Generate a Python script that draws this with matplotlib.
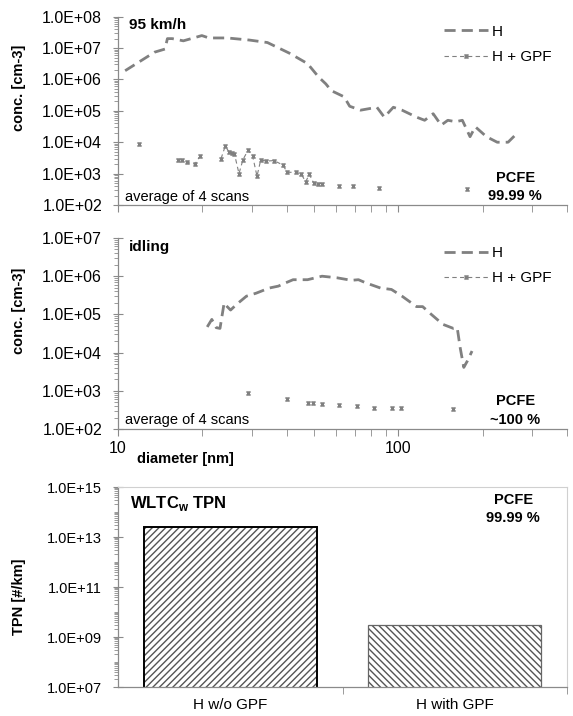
import numpy as np
import matplotlib
matplotlib.use("Agg")
import matplotlib.pyplot as plt
from matplotlib.ticker import LogLocator, FixedLocator, FuncFormatter, NullFormatter
from matplotlib.path import Path
from matplotlib.lines import Line2D

plt.rcParams["font.family"] = ["Liberation Sans", "DejaVu Sans"]

# 95 km/h, without GPF
d_h95 = [10.6, 13.5, 14.7, 15.0, 15.6, 17.1, 19.9, 21.1, 24.5, 29.4, 34.1, 40.8,
         47.4, 51.9, 55.1, 57.6, 64.0, 67.0, 73.3, 83.8, 89.0, 95.9, 103, 116,
         124, 133, 142, 150, 160, 169, 180, 188, 206, 225, 246, 266]
c_h95 = [1.9e6, 7.4e6, 9.3e6, 2.0e7, 2.0e7, 1.7e7, 2.5e7, 2.1e7, 2.1e7, 1.8e7,
         1.5e7, 6.9e6, 3.2e6, 1.2e6, 7.2e5, 4.4e5, 2.8e5, 1.4e5, 1.05e5, 1.3e5,
         6.3e4, 1.3e5, 1.05e5, 6.3e4, 5.0e4, 8.1e4, 3.5e4, 5.0e4, 4.5e4, 5.0e4,
         1.5e4, 3.1e4, 1.5e4, 1.0e4, 1.0e4, 2.0e4]

# 95 km/h, with GPF (nan = gap in the series)
nan = np.nan
d_g95 = [11.9, nan, 16.4, 16.9, 17.6, 18.8, 19.6, nan, 23.3, 24.1, 24.9, 25.4,
         26.0, 27.0, 27.9, 29.1, 30.2, 31.3, 32.3, 33.6, 36.0, 38.6, 40.2, 43.0,
         44.9, 46.7, 48.1, 49.9, 51.5, 53.4, nan, 61.5, nan, 68.9, nan, 85.5,
         nan, 175]
c_g95 = [8.7e3, nan, 2.8e3, 2.7e3, 2.3e3, 2.0e3, 3.6e3, nan, 3.0e3, 7.4e3,
         4.9e3, 4.5e3, 4.3e3, 1.0e3, 2.8e3, 5.6e3, 3.6e3, 8.3e2, 2.8e3, 2.5e3,
         2.6e3, 1.9e3, 1.1e3, 1.1e3, 1.0e3, 5.5e2, 9.5e2, 4.9e2, 4.8e2, 4.8e2,
         nan, 4.1e2, nan, 3.9e2, nan, 3.4e2, nan, 3.2e2]

# idling, without GPF
d_hid = [20.8, 21.6, 22.4, 23.1, 23.9, 24.5, 25.2, 26.4, 28.7, 31.1, 34.6, 37.3,
         39.6, 42.1, 47.4, 53.4, 60.3, 68.0, 72.0, 76.5, 86.3, 94.4, 103, 116,
         122, 131, 144, 157, 162, 166, 171, 176, 183]
c_hid = [4.7e4, 7.4e4, 4.5e4, 4.3e4, 2.0e5, 1.6e5, 1.3e5, 1.8e5, 3.0e5, 3.6e5,
         4.9e5, 5.5e5, 6.7e5, 8.1e5, 8.1e5, 1.0e6, 9.1e5, 7.8e5, 8.1e5, 6.7e5,
         4.9e5, 4.5e5, 3.0e5, 1.6e5, 1.6e5, 1.0e5, 5.5e4, 4.3e4, 4.5e4, 1.35e4,
         4.1e3, 6.0e3, 1.1e4]

# idling, with GPF
d_gid = [29.0, nan, 40.2, nan, 47.7, nan, 49.5, nan, 53.4, nan, 61.5, nan, 71.1,
         nan, 81.8, nan, 95.1, nan, 102.5, nan, 157]
c_gid = [9.0e2, nan, 6.0e2, nan, 4.9e2, nan, 4.7e2, nan, 4.6e2, nan, 4.3e2, nan,
         3.9e2, nan, 3.5e2, nan, 3.5e2, nan, 3.5e2, nan, 3.3e2]

# WLTC total particle number
tpn_labels = ["H w/o GPF", "H with GPF"]
tpn_values = [2.6e13, 3.0e9]

GRAY = "#808080"
AXC = "#8a8a8a"

# excel-like "star" marker: x with a vertical bar
star = Path([(-1, -1), (1, 1), (-1, 1), (1, -1), (0, -1.1), (0, 1.1)],
            [Path.MOVETO, Path.LINETO, Path.MOVETO, Path.LINETO,
             Path.MOVETO, Path.LINETO])

sci = FuncFormatter(lambda v, p: f"{v:.1E}")


def style_axes(ax, fs):
    for s in ("top", "right"):
        ax.spines[s].set_visible(False)
    for s in ("left", "bottom"):
        ax.spines[s].set_color(AXC)
        ax.spines[s].set_linewidth(0.9)
    ax.tick_params(axis="y", which="major", direction="inout", length=7,
                   color=AXC, labelsize=fs, pad=8)
    ax.tick_params(axis="y", which="minor", direction="out", length=3,
                   color=AXC, width=0.6)
    ax.tick_params(axis="x", which="both", direction="out", length=5,
                   color=AXC, labelsize=fs)
    ax.yaxis.set_major_formatter(sci)


def psd_panel(ax, d_h, c_h, d_g, c_g, ylim, mode, pcfe):
    ax.set_xscale("log")
    ax.set_yscale("log")
    ax.plot(d_h, c_h, color=GRAY, lw=2.0, ls=(0, (4, 2.2)))
    ax.plot(d_g, c_g, color=GRAY, lw=0.8, ls=(0, (4, 3)), marker=star,
            ms=3.2, mew=1.1, mec=GRAY)
    ax.set_xlim(10, 400)
    ax.set_ylim(*ylim)
    ax.yaxis.set_major_locator(LogLocator(base=10, numticks=20))
    ax.yaxis.set_minor_locator(LogLocator(base=10, subs=np.arange(2, 10), numticks=100))
    ax.yaxis.set_minor_formatter(NullFormatter())
    ax.xaxis.set_minor_locator(LogLocator(base=10, subs=np.arange(2, 10), numticks=100))
    ax.xaxis.set_minor_formatter(NullFormatter())
    style_axes(ax, 11.5)
    ax.set_ylabel("conc. [cm-3]", fontsize=10.5, fontweight="bold")
    ax.yaxis.set_label_coords(-0.205, 0.62)

    handles = [Line2D([], [], color=GRAY, lw=2.0, ls=(0, (4, 2.2))),
               Line2D([], [], color=GRAY, lw=0.8, ls=(0, (4, 3)), marker=star,
                      ms=3.2, mew=1.1)]
    ax.legend(handles, ["H", "H + GPF"], loc="upper right",
              bbox_to_anchor=(0.995, 1.03), frameon=False, fontsize=11,
              handlelength=2.9, handletextpad=0.25, labelspacing=0.75)

    ax.text(0.025, 0.955, mode, transform=ax.transAxes, fontsize=11,
            fontweight="bold", va="center", ha="left")
    ax.text(0.016, 0.045, "average of 4 scans", transform=ax.transAxes,
            fontsize=10.5, va="center", ha="left")
    ax.text(0.884, 0.145, "PCFE", transform=ax.transAxes, fontsize=10.5,
            fontweight="bold", va="center", ha="center")
    ax.text(0.884, 0.048, pcfe, transform=ax.transAxes, fontsize=10.5,
            fontweight="bold", va="center", ha="center")


fig = plt.figure(figsize=(5.73, 7.16), dpi=100)

ax1 = fig.add_axes([0.206, 0.7137, 0.784, 0.263])
psd_panel(ax1, d_h95, c_h95, d_g95, c_g95, (1e2, 1e8), "95 km/h", "99.99 %")
ax1.tick_params(axis="x", which="both", labelbottom=False)

ax2 = fig.add_axes([0.206, 0.4008, 0.784, 0.2668])
psd_panel(ax2, d_hid, c_hid, d_gid, c_gid, (1e2, 1e7), "idling", "~100 %")
ax2.xaxis.set_major_formatter(FuncFormatter(lambda v, p: f"{v:g}"))
ax2.set_xlabel("diameter [nm]", fontsize=10.5, fontweight="bold")
ax2.xaxis.set_label_coords(0.15, -0.12)

# bottom: total particle number
ax3 = fig.add_axes([0.206, 0.0405, 0.784, 0.2793])
ax3.set_yscale("log")
x = np.arange(len(tpn_labels))
ax3.bar(x, tpn_values, width=0.77, color="white", edgecolor="#555555",
        linewidth=0, hatch=["/////", "\\\\\\\\\\"])
ax3.bar(x, tpn_values, width=0.77, fill=False,
        edgecolor=["black", "#666666"], linewidth=[1.4, 0.9])
ax3.set_xlim(-0.5, 1.5)
ax3.set_ylim(1e7, 1e15)
ax3.yaxis.set_major_locator(FixedLocator([1e7, 1e9, 1e11, 1e13, 1e15]))
ax3.yaxis.set_minor_locator(LogLocator(base=10, subs=np.arange(1, 10), numticks=100))
ax3.yaxis.set_minor_formatter(NullFormatter())
style_axes(ax3, 10.5)
ax3.set_xticks(x)
ax3.set_xticklabels(tpn_labels, fontsize=11)
ax3.tick_params(axis="x", which="major", length=0, pad=8)
ax3.set_xticks([0.5, 1.5], minor=True)
ax3.tick_params(axis="x", which="minor", length=5, direction="out", color=AXC)
for s in ("top", "right"):
    ax3.spines[s].set_visible(True)
    ax3.spines[s].set_color("#d0d0d0")
    ax3.spines[s].set_linewidth(0.8)
ax3.set_ylabel("TPN [#/km]", fontsize=10.5, fontweight="bold")
ax3.yaxis.set_label_coords(-0.205, 0.45)
ax3.text(0.027, 0.92, r"WLTC$_\mathregular{w}$ TPN", transform=ax3.transAxes,
         fontsize=12, fontweight="bold", va="center", ha="left")
ax3.text(0.88, 0.935, "PCFE", transform=ax3.transAxes, fontsize=10.5,
         fontweight="bold", va="center", ha="center")
ax3.text(0.88, 0.845, "99.99 %", transform=ax3.transAxes, fontsize=10.5,
         fontweight="bold", va="center", ha="center")

fig.savefig("out.png", dpi=100)
